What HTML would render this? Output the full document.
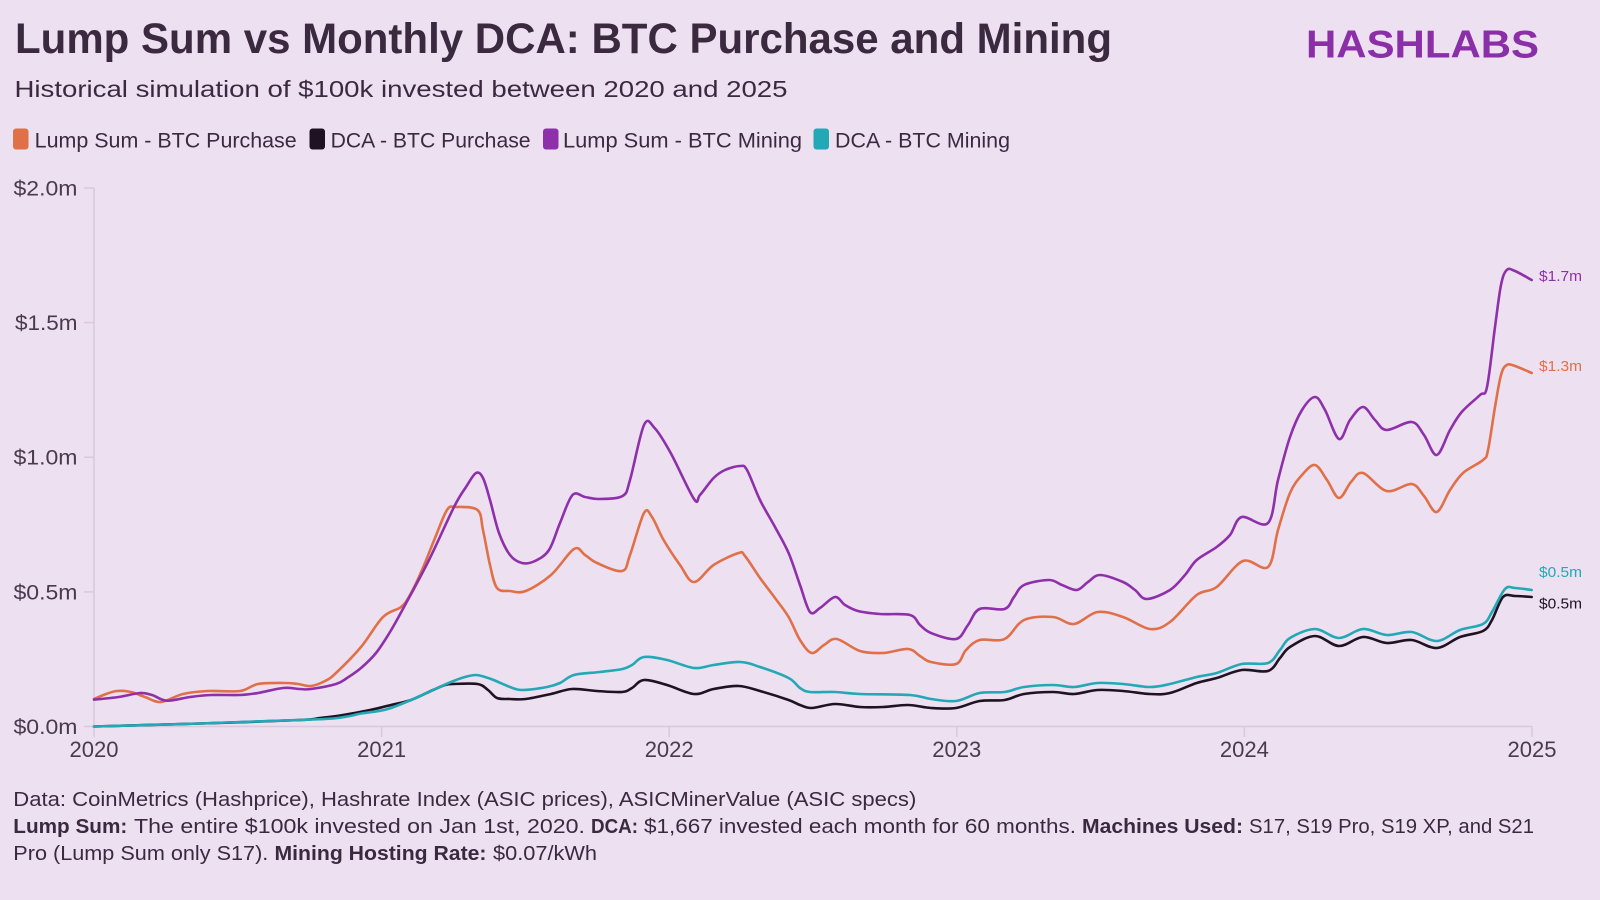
<!DOCTYPE html>
<html>
<head>
<meta charset="utf-8">
<style>
  html,body{margin:0;padding:0;background:#EDE0F1;}
  svg{display:block;}
  text{font-family:"Liberation Sans",sans-serif;}
</style>
</head>
<body>
<svg id="chart" width="1600" height="900" viewBox="0 0 1600 900" xmlns="http://www.w3.org/2000/svg">
  <rect x="0" y="0" width="1600" height="900" fill="#EDE0F1"/>

  <!-- Title -->
  <text x="15" y="53" font-size="43" font-weight="bold" fill="#3B2A3F" textLength="1097" lengthAdjust="spacingAndGlyphs">Lump Sum vs Monthly DCA: BTC Purchase and Mining</text>
  <text x="14.5" y="97" font-size="23" fill="#3B2A3F" textLength="773" lengthAdjust="spacingAndGlyphs">Historical simulation of $100k invested between 2020 and 2025</text>

  <!-- Logo -->
  <text x="1306" y="57.5" font-size="39" font-weight="bold" fill="#8B2FA8" textLength="233" lengthAdjust="spacingAndGlyphs">HASHLABS</text>

  <!-- Legend -->
  <rect x="13" y="128.5" width="15.5" height="21" rx="3" fill="#E07048"/>
  <text x="34.7" y="147.3" font-size="21" fill="#3B2A3F" textLength="262" lengthAdjust="spacingAndGlyphs">Lump Sum - BTC Purchase</text>
  <rect x="309.5" y="128.5" width="15.5" height="21" rx="3" fill="#1F1223"/>
  <text x="330.6" y="147.3" font-size="21" fill="#3B2A3F" textLength="200" lengthAdjust="spacingAndGlyphs">DCA - BTC Purchase</text>
  <rect x="543" y="128.5" width="15.5" height="21" rx="3" fill="#8E30AA"/>
  <text x="563" y="147.3" font-size="21" fill="#3B2A3F" textLength="239" lengthAdjust="spacingAndGlyphs">Lump Sum - BTC Mining</text>
  <rect x="813.5" y="128.5" width="15.5" height="21" rx="3" fill="#22A9B5"/>
  <text x="835" y="147.3" font-size="21" fill="#3B2A3F" textLength="175" lengthAdjust="spacingAndGlyphs">DCA - BTC Mining</text>

  <!-- Axes -->
  <g stroke="#D8C9DC" stroke-width="1.5" fill="none">
    <line x1="94" y1="188" x2="94" y2="726.5"/>
    <line x1="94" y1="726.5" x2="1532" y2="726.5"/>
    <line x1="84" y1="188" x2="94" y2="188"/>
    <line x1="84" y1="322.6" x2="94" y2="322.6"/>
    <line x1="84" y1="457.2" x2="94" y2="457.2"/>
    <line x1="84" y1="591.9" x2="94" y2="591.9"/>
    <line x1="84" y1="726.5" x2="94" y2="726.5"/>
    <line x1="94" y1="726.5" x2="94" y2="737"/>
    <line x1="381.6" y1="726.5" x2="381.6" y2="737"/>
    <line x1="669.2" y1="726.5" x2="669.2" y2="737"/>
    <line x1="956.8" y1="726.5" x2="956.8" y2="737"/>
    <line x1="1244.4" y1="726.5" x2="1244.4" y2="737"/>
    <line x1="1532" y1="726.5" x2="1532" y2="737"/>
  </g>

  <!-- Y labels -->
  <g font-size="21" fill="#4A3A4E">
    <text x="13.5" y="195.5" textLength="64" lengthAdjust="spacingAndGlyphs">$2.0m</text>
    <text x="15" y="330" textLength="62.5" lengthAdjust="spacingAndGlyphs">$1.5m</text>
    <text x="13.5" y="464.7" textLength="64" lengthAdjust="spacingAndGlyphs">$1.0m</text>
    <text x="13.5" y="599.4" textLength="64" lengthAdjust="spacingAndGlyphs">$0.5m</text>
    <text x="13.5" y="734" textLength="64" lengthAdjust="spacingAndGlyphs">$0.0m</text>
  </g>

  <!-- X labels -->
  <g font-size="22" fill="#4A3A4E">
    <text x="69.5" y="757" textLength="49" lengthAdjust="spacingAndGlyphs">2020</text>
    <text x="357.1" y="757" textLength="49" lengthAdjust="spacingAndGlyphs">2021</text>
    <text x="644.7" y="757" textLength="49" lengthAdjust="spacingAndGlyphs">2022</text>
    <text x="932.3" y="757" textLength="49" lengthAdjust="spacingAndGlyphs">2023</text>
    <text x="1219.9" y="757" textLength="49" lengthAdjust="spacingAndGlyphs">2024</text>
    <text x="1507.5" y="757" textLength="49" lengthAdjust="spacingAndGlyphs">2025</text>
  </g>

  <!-- Series -->
  <g id="series" fill="none" stroke-width="2.6" stroke-linejoin="round" stroke-linecap="round">
    <!-- Lump Sum - BTC Purchase (orange) -->
    <polyline class="s" stroke="#E07048" points="94,699 106,694 117,691 131,692 145,697 161,702 183,694 208,691 240,691 258,684 285,683 298,684 311,686 325,681 336,673 361,647 383,617 401,607 410,595 422,570 435,538 447,510 456,507 477.5,510 483,530 490,565 497,588 510,591 525.7,591 551,575 574,549 585,555 597,563 622,571 630,555 644,513 652,517 663.6,540 680,565 694,582 713.6,565 738.6,553 745,556 760,578 775,598 788.6,617 800,640 811.8,653 824,645 836.8,639 860,651 883,653 908,649 920,656 931,662 956,664 966,650 979.6,640 1004.6,639 1024,620 1053,617 1074,624 1097.5,612 1123,617 1150,629 1170,622 1196.7,595 1216.7,587 1243,561 1268,567 1278,530 1290,493 1302,475 1315,465 1327,480 1339,498 1351,482 1363,473 1386.7,491 1411.7,484 1424,496 1436.7,512 1450,490 1463,473 1483,460 1488,450 1495,407 1501,375 1506.7,365 1515,366 1531.7,373"/>
    <!-- DCA - BTC Purchase (black) -->
    <polyline class="s" stroke="#1F1223" points="94,726.5 200,723.5 300,720 320,718 340,715.5 370,710 393,704.5 411,700 433,690 445,685 452.5,684 477.5,684 488,690 497,698 510,699 525.7,699 551,694 572,689 597,691 622,692 632,688 644,680 667,685 694,694 713.6,689 738.6,686 760,691 788.6,700 800,705 811.8,708 835,704 860,707 883,707 908,705 931,708 956,708 979.6,701 1004.6,700 1024,694 1053,692 1074,694 1097.5,690 1123,691 1150,694 1170,693 1196.7,683 1216.7,678 1241.7,670 1268,671 1280,658 1290,647 1315,636 1339,646 1363,637 1386.7,643 1411.7,640 1436.7,648 1460,637 1483,631 1492,620 1503,597 1515,596 1531.7,597"/>
    <!-- Lump Sum - BTC Mining (purple) -->
    <polyline class="s" stroke="#8E30AA" points="94,699.6 118.6,697 140,693 152,695 167,700.7 190,697 211,695 240,695 258,693 283,688 300,689 311,689 336,684 347,678 361,668 376,653 390,632 404,607 429,560 454,507 466,487 476,473 483,478 490,500 499,533 510,555 522,563 535,561 549,550 560,523 572.5,495 585,497 599,499 622.5,496 630,480 644,425 654.6,428 670.7,453 694,499 700,495 713.6,478 725,470 740,466 747,470 760,500 775,527 788.6,553 800,585 810,612 820,608 835,597 845,605 858,611 880,614 910,615 920,625 931,633 956,639 968,625 979.6,609 1004.6,609 1014,597 1024,585 1049,580 1062,585 1076.7,590 1088,582 1100,575 1123,582 1135,590 1146.7,599 1170,590 1185,575 1196.7,560 1216.7,547 1230,535 1241.7,517 1268,523 1278,480 1290,437 1302,410 1315,397 1325,410 1339,439 1350,420 1363,407 1375,420 1386.7,430 1411.7,422 1424,435 1436.7,455 1450,430 1461.7,412 1480,395 1487,387 1495,327 1501,285 1506.7,270 1515,271 1531.7,280"/>
    <!-- DCA - BTC Mining (teal) -->
    <polyline class="s" stroke="#22A9B5" points="94,726.5 150,725 200,723.5 268.6,721 300,720 333,718.5 350,716 361,713.5 386,709.5 411,700 433,690 451,682 465,677 476,675 485,677 493.6,680 510,687 522,690 547,687 560,683 574,675 600,672 622.5,669 632,665 644,657 667,660 694,668 713.6,665 740,662 760,667 788.6,678 800,688 810,692 835,692 860,694 910,695 931,699 956,701 979.6,693 1004.6,692 1024,687 1053,685 1074,687 1097.5,683 1123,684 1150,687 1170,684 1196.7,677 1216.7,673 1241.7,664 1268,663 1280,650 1290,638 1315,629 1339,638 1363,629 1386.7,635 1411.7,632 1436.7,641 1460,630 1483,624 1492,612 1505,589 1515,588 1531.7,590"/>
  </g>

  <!-- End labels -->
  <g font-size="15">
    <text x="1539" y="281" fill="#8E30AA" textLength="43" lengthAdjust="spacingAndGlyphs">$1.7m</text>
    <text x="1539" y="371" fill="#E07048" textLength="43" lengthAdjust="spacingAndGlyphs">$1.3m</text>
    <text x="1539" y="577" fill="#22A9B5" textLength="43" lengthAdjust="spacingAndGlyphs">$0.5m</text>
    <text x="1539" y="608.5" fill="#1F1223" textLength="43" lengthAdjust="spacingAndGlyphs">$0.5m</text>
  </g>

  <!-- Footer -->
  <g font-size="20" fill="#3B2A3F">
    <text x="13.3" y="806" textLength="903" lengthAdjust="spacingAndGlyphs">Data: CoinMetrics (Hashprice), Hashrate Index (ASIC prices), ASICMinerValue (ASIC specs)</text>

    <text x="13.3" y="833" font-weight="bold" textLength="114" lengthAdjust="spacingAndGlyphs">Lump Sum:</text>
    <text x="134" y="833" textLength="451" lengthAdjust="spacingAndGlyphs">The entire $100k invested on Jan 1st, 2020.</text>
    <text x="591" y="833" font-weight="bold" textLength="47" lengthAdjust="spacingAndGlyphs">DCA:</text>
    <text x="644" y="833" textLength="432" lengthAdjust="spacingAndGlyphs">$1,667 invested each month for 60 months.</text>
    <text x="1082" y="833" font-weight="bold" textLength="161" lengthAdjust="spacingAndGlyphs">Machines Used:</text>
    <text x="1249" y="833" textLength="285" lengthAdjust="spacingAndGlyphs">S17, S19 Pro, S19 XP, and S21</text>

    <text x="13.3" y="860" textLength="255" lengthAdjust="spacingAndGlyphs">Pro (Lump Sum only S17).</text>
    <text x="274.5" y="860" font-weight="bold" textLength="212" lengthAdjust="spacingAndGlyphs">Mining Hosting Rate:</text>
    <text x="493" y="860" textLength="104" lengthAdjust="spacingAndGlyphs">$0.07/kWh</text>
  </g>
</svg>
<script>
(function(){
  try {
    var ns = "http://www.w3.org/2000/svg";
    var lines = document.querySelectorAll("#series polyline.s");
    for (var k = 0; k < lines.length; k++) {
      var pl = lines[k];
      var raw = pl.getAttribute("points").trim().split(/\s+/);
      var p = [];
      for (var i = 0; i < raw.length; i++) {
        var c = raw[i].split(",");
        p.push([parseFloat(c[0]), parseFloat(c[1])]);
      }
      if (p.length < 3) continue;
      var t = 0.5;
      var d = "M" + p[0][0] + "," + p[0][1];
      for (var i = 0; i < p.length - 1; i++) {
        var p0 = p[i > 0 ? i - 1 : 0], p1 = p[i], p2 = p[i + 1], p3 = p[i + 2 < p.length ? i + 2 : p.length - 1];
        var c1x = p1[0] + (p2[0] - p0[0]) / 6 * t * 2;
        var c1y = p1[1] + (p2[1] - p0[1]) / 6 * t * 2;
        var c2x = p2[0] - (p3[0] - p1[0]) / 6 * t * 2;
        var c2y = p2[1] - (p3[1] - p1[1]) / 6 * t * 2;
        d += " C" + c1x.toFixed(2) + "," + c1y.toFixed(2) + " " + c2x.toFixed(2) + "," + c2y.toFixed(2) + " " + p2[0] + "," + p2[1];
      }
      var path = document.createElementNS(ns, "path");
      path.setAttribute("d", d);
      path.setAttribute("stroke", pl.getAttribute("stroke"));
      pl.parentNode.insertBefore(path, pl);
      pl.parentNode.removeChild(pl);
    }
  } catch (e) {}
})();
</script>
</body>
</html>
